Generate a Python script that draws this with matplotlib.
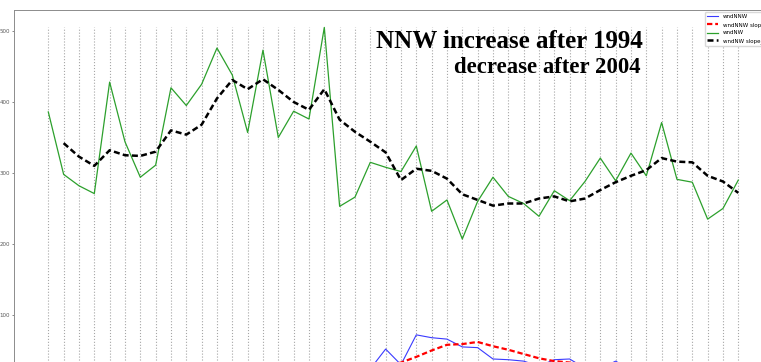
import numpy as np
import matplotlib
matplotlib.use('Agg')
import matplotlib.pyplot as plt

# years on the x axis (one dotted line per year)
years = list(range(1973, 2019))

# yearly NW wind counts
wndNW = [386, 298, 282, 271, 428, 344, 294, 311, 420, 395,
         425, 476, 438, 357, 473, 350, 387, 376, 505, 253,
         266, 315, 308, 302, 338, 246, 262, 207, 260, 294,
         267, 257, 239, 275, 261, 288, 321, 289, 328, 296,
         371, 291, 287, 235, 250, 290]

# smoothed NW
wndNW_slope = [np.nan, 342, 323, 310, 332, 325, 324, 330, 360, 354,
               368, 405, 431, 418, 432, 417, 400, 389, 418, 375,
               358, 344, 329, 290, 306, 303, 292, 270, 262, 254,
               257, 257, 264, 267, 260, 264, 276, 287, 296, 304,
               321, 316, 315, 296, 288, 272]

# yearly NNW wind counts (mostly below the visible area)
wndNNW = [12, 15, 10, 18, 14, 11, 16, 20, 13, 17,
          15, 12, 18, 22, 16, 19, 14, 21, 18, 20,
          17, 24, 52, 30, 72, 68, 66, 55, 54, 38,
          37, 35, 28, 37, 38, 25, 24, 35, 22, 18,
          20, 16, 19, 15, 17, 14]

# smoothed NNW
wndNNW_slope = [np.nan, 13, 14, 14, 15, 15, 15, 16, 16, 16,
                16, 16, 17, 17, 18, 18, 18, 19, 19, 20,
                20, 24, 28, 33, 41, 50, 58, 59, 62, 56,
                51, 45, 39, 35, 33, 31, 29, 27, 25, 23,
                21, 19, 18, 17, 17, 16]

W, H = 761, 362
fig = plt.figure(figsize=(W / 100, H / 100), dpi=100)

# the picture is a crop of a bigger chart: axes run past the right and bottom edges
left, right = 13.8, 772.8
top, bottom = 9.5, 403.9
ax = fig.add_axes([left / W, 1 - bottom / H, (right - left) / W, (bottom - top) / H])

ax.vlines(years, 0, max(wndNW), colors='0.65', linestyles=':', linewidth=0.8)
ax.plot(years, wndNNW, color='#3a3aff', linewidth=0.8, label='wndNNW')
ax.plot(years, wndNNW_slope, color='r', linewidth=1.6, linestyle=(0, (2.4, 1.3)),
        label='wndNNW slope_ma')
ax.plot(years, wndNW, color='#2ca02c', linewidth=0.9, label='wndNW')
ax.plot(years, wndNW_slope, color='k', linewidth=1.8, linestyle=(0, (2.4, 1.3)),
        label='wndNW slope_ma')

ax.set_xlim(years[0] - 2.25, years[-1] + 2.25)
ax.set_ylim(-25.25, 530.25)
ax.set_yticks([0, 100, 200, 300, 400, 500])
ax.tick_params(labelsize=4, length=1.5, width=0.5, pad=1.2, colors='0.35')
ax.tick_params(axis='x', labelbottom=False, length=0)
for s in ax.spines.values():
    s.set_linewidth(0.7)
    s.set_color('0.55')

ax.text(years[0] + 38.8, 475.6, 'NNW increase after 1994', ha='right', va='baseline',
        fontsize=18, fontweight='bold', family='Liberation Serif')
ax.text(years[0] + 38.6, 441.3, 'decrease after 2004', ha='right', va='baseline',
        fontsize=16.4, fontweight='bold', family='Liberation Serif')

ax.legend(loc='upper left', bbox_to_anchor=(705 / W, 1 - 12 / H),
          bbox_transform=fig.transFigure, borderaxespad=0, fontsize=4,
          framealpha=1, edgecolor='0.85', fancybox=True)

fig.savefig('out.png', dpi=100)
